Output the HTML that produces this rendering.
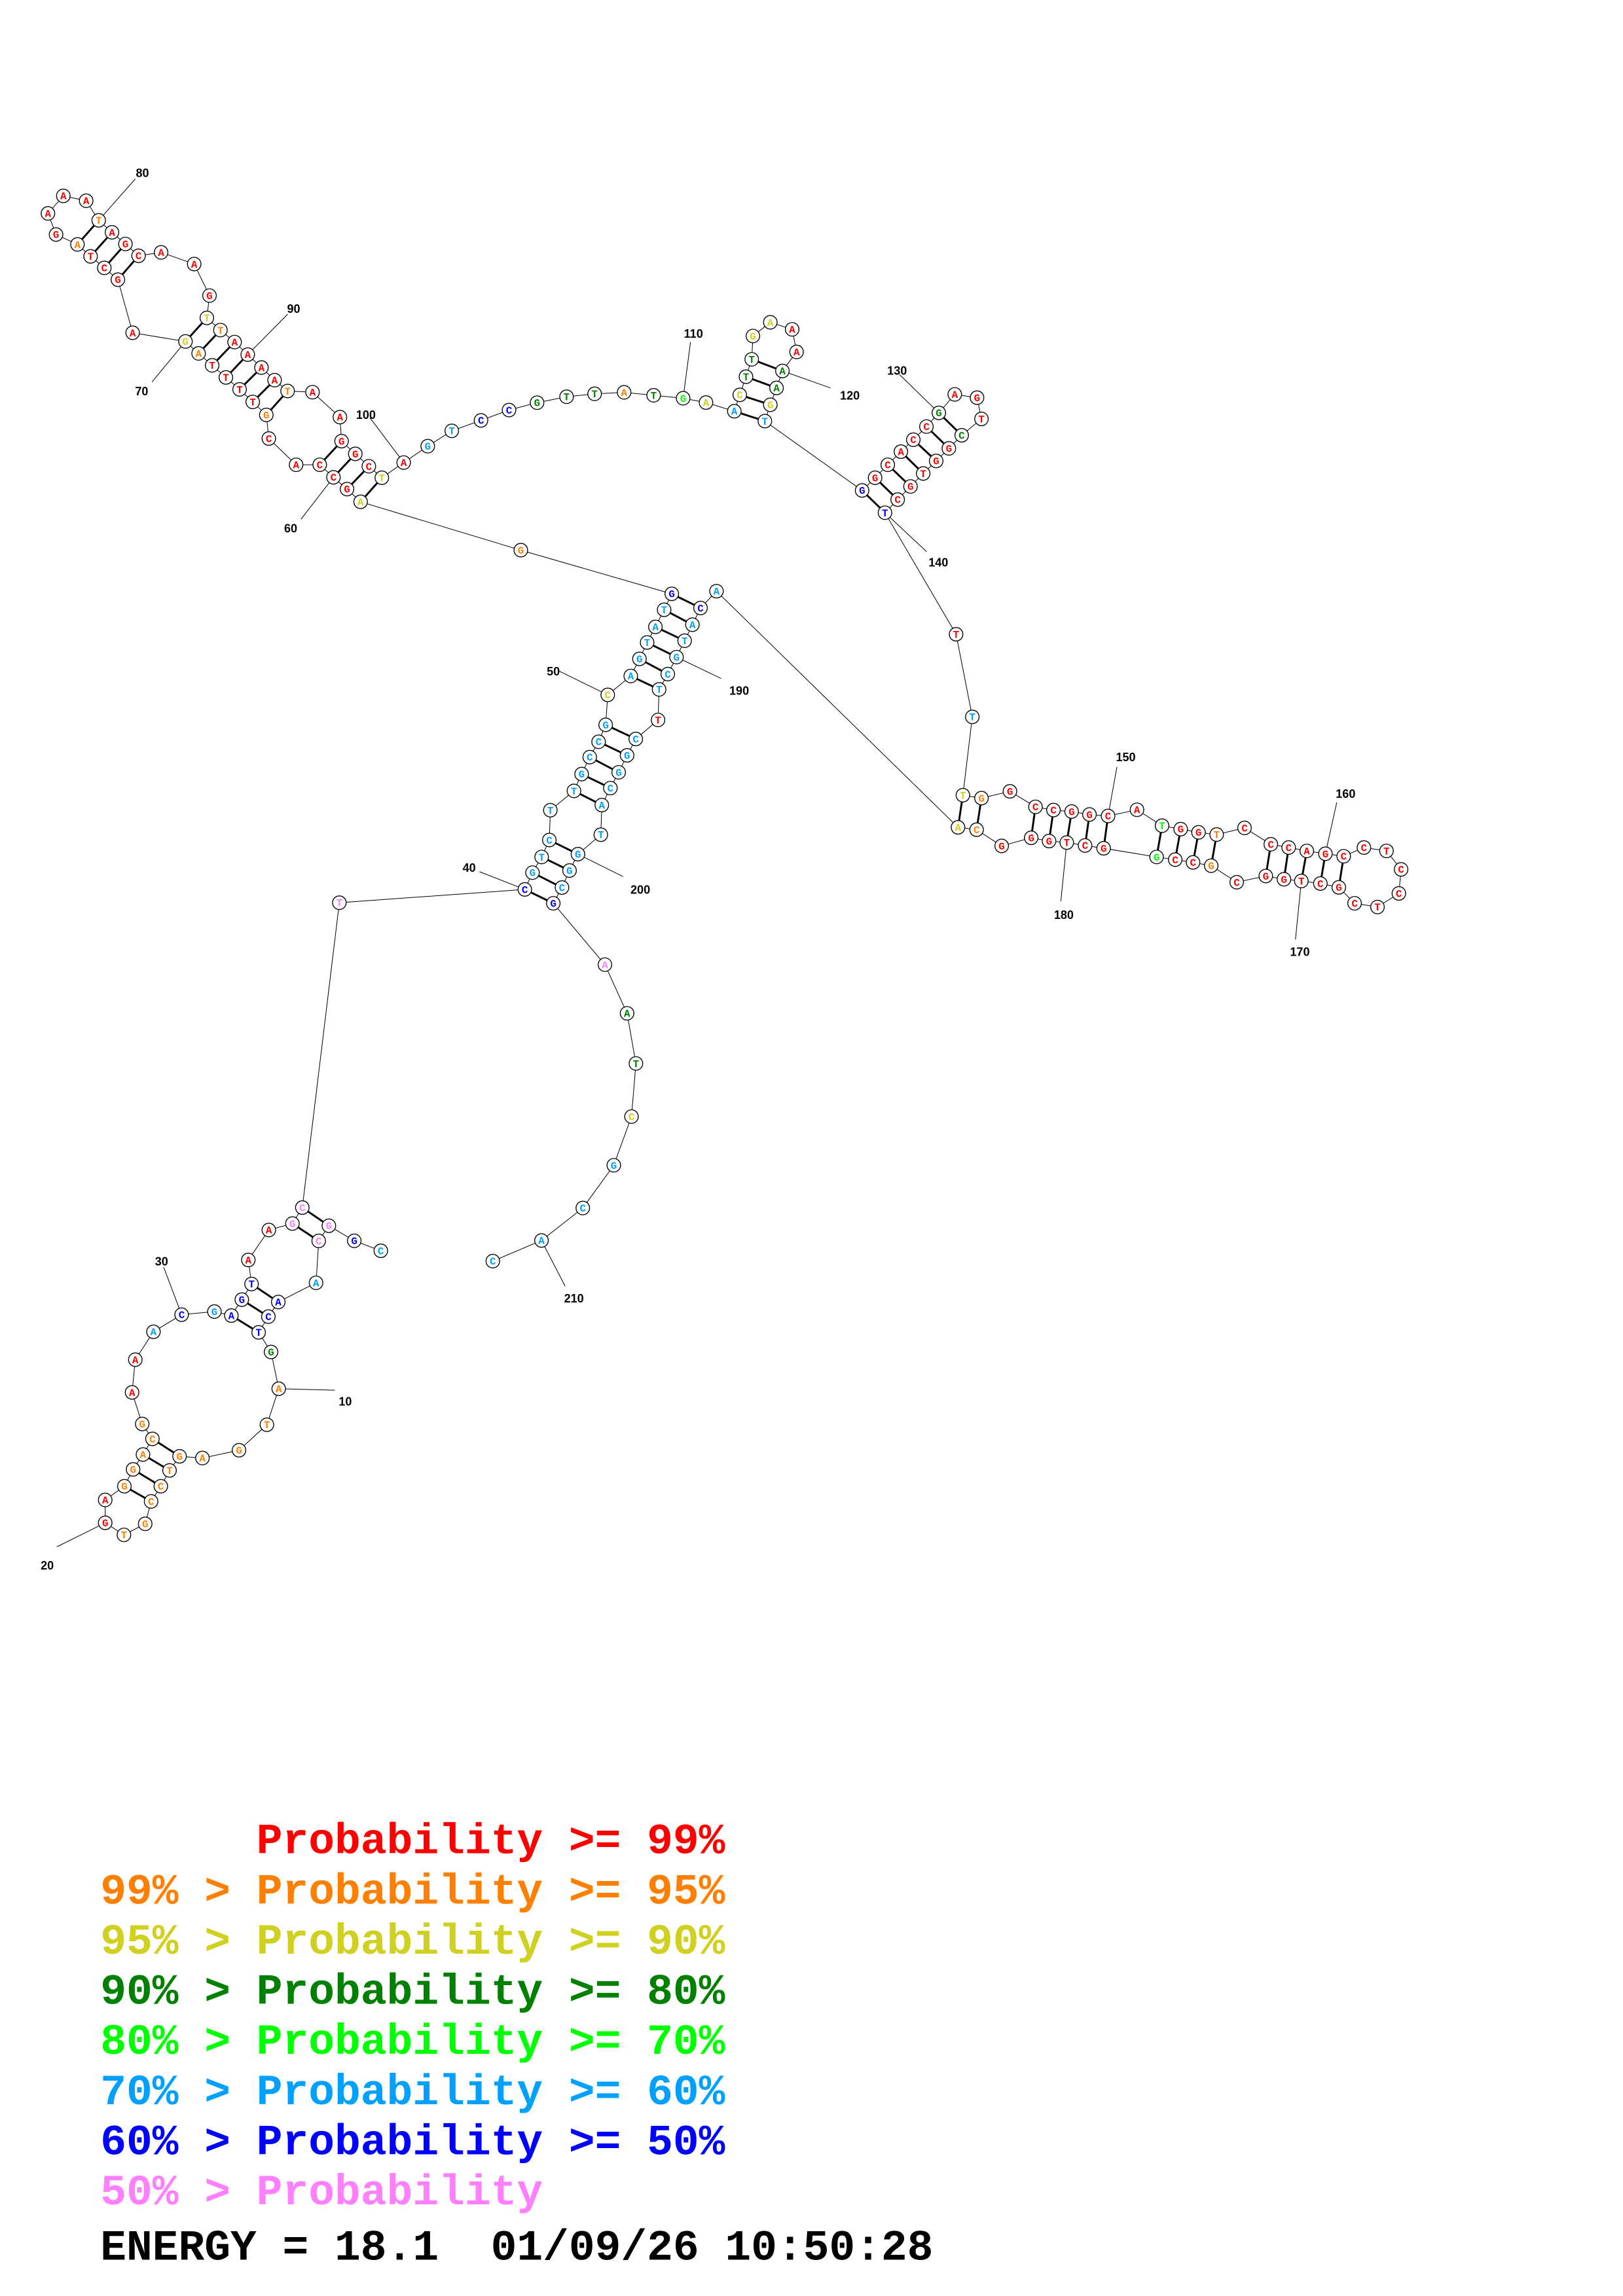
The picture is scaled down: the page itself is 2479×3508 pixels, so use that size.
<!DOCTYPE html>
<html><head><meta charset="utf-8"><style>
html,body{margin:0;padding:0;background:#fff}
svg{display:block}
.c circle{fill:#fff;stroke:#000;stroke-width:0.6}
.t text{font-family:"Liberation Mono",monospace;font-weight:bold;font-size:7px;text-anchor:middle}
.r{fill:#ff0000}.o{fill:#ff8000}.y{fill:#d0d020}.dg{fill:#008000}.g{fill:#00ff00}.lb{fill:#00a0ff}.b{fill:#0000ff}.p{fill:#ff80ff}.k{fill:#000}
.lab text{font-family:"Liberation Sans",sans-serif;font-weight:bold;font-size:8px;text-anchor:middle;fill:#000}
.leg text{font-family:"Liberation Mono",monospace;font-weight:bold;font-size:29.4px;white-space:pre}
</style></head><body>
<svg xmlns="http://www.w3.org/2000/svg" width="2479" height="3508" viewBox="0 0 1100 1556.6" preserveAspectRatio="none">
<rect width="1100" height="1556.6" fill="#fff"/>
<path fill="none" stroke="#000" stroke-width="0.45" d="M258.1 848 L240.1 841.2 L222.9 831 L216 841.3 L214.2 869.7 L188.6 882.7 L181.9 892.6 L175.3 903.3 L183.7 916.6 L188.9 941.5 L180.9 965.9 L162 983.2 L137.2 988.5 L121.7 987.3 L114.9 996.9 L109 1007.6 L102.4 1017.9 L98.4 1033.1 L84 1040.6 L71.3 1032.4 L71.3 1016.9 L84.3 1007.6 L90.2 996.2 L96.9 986.1 L103.3 975.5 L96.4 965.4 L89.5 944 L91.7 921.8 L104 902.9 L123.1 891.3 L145.3 889.2 L156.8 891.9 L163.9 881.1 L170.5 870.5 L168.3 854.2 L182.2 833.9 L198.2 829.5 L204.9 818.7 L230 612 L355.7 603 L360.9 591.6 L367.1 581 L372.3 569.5 L373 549.3 L389 536.2 L394.2 524.8 L399.7 513.3 L405.7 502.9 L410.5 491.4 L411.9 471.1 L427.5 458.3 L433.4 446.7 L438.6 435.6 L444.2 425 L450.1 413.4 L455.3 402.6 L353 373 L244.4 340.2 L235.2 331.6 L226 323.6 L216.7 315.1 L200.7 315.1 L182.2 297.3 L180.5 281.3 L171.3 272.5 L162.4 264 L153.1 255.9 L143.8 247.7 L134.6 239.6 L125.7 231.5 L89.9 225.6 L79.9 189.6 L70.7 181.6 L61.4 173.8 L52.5 165.7 L38 159 L32.5 144.7 L42.9 132.8 L58.4 136.1 L66.9 149.4 L75.9 157.5 L85 165.4 L93.9 173.4 L109.2 171.1 L131.6 179 L142 200.4 L140.2 215.5 L149.4 223.8 L159 231.9 L167.9 240.4 L177.2 249.2 L186.1 257.7 L194.9 265.1 L211.8 265.9 L230.4 282.8 L231.5 299.1 L240.8 307.7 L250 316.1 L258.8 323.9 L273.6 313.6 L289.9 302.5 L306.2 292.1 L326 285 L345 278 L364 273 L384 269 L403 267 L423 266 L443 268 L463 270 L478.5 272.9 L497.7 278.8 L501.4 267.7 L505.6 255.4 L509.5 243.6 L510.3 227.8 L522.1 218.5 L536.9 223.3 L539.9 238.6 L530.3 251.5 L526.3 263 L522.1 274.4 L518.4 285.5 L584.3 332.5 L593.1 323.9 L601.7 315.1 L610.6 306.2 L619 298.1 L627.9 289.2 L636.3 279.9 L647.1 267.4 L662.2 269.6 L665.2 284 L651.8 295.1 L643.1 304 L634.5 312.5 L625.7 321 L617.1 329.8 L608.4 338.7 L599.8 347.6 L648 430 L659 486 L652.6 539.1 L665.2 541.1 L684.5 536.5 L701.8 547 L714 549.2 L726.3 550.2 L738.4 552.2 L751 553.2 L770.6 549 L787.6 559.8 L800.2 562.1 L812.3 564.3 L824.6 565.8 L843.5 561.3 L861.3 572.4 L873.4 574.6 L885.7 576.9 L898.3 578.8 L910.7 580.5 L924.4 574.6 L939.7 576.9 L949.6 589.4 L948.1 605.7 L933.6 614.9 L918.1 612.4 L907.4 601.6 L894.9 599 L882 597.3 L870.2 596.1 L857.9 593.9 L838.2 598.1 L820.9 586.9 L808.6 584.7 L796.5 582.8 L783.9 581 L748 575.1 L735.4 573.2 L723 571.2 L711 570.2 L698.9 568 L678.9 573.5 L661.9 562.5 L649.3 560.9 L485.6 400.8 L474.8 412.2 L469.3 423.5 L464 434.4 L458.5 445.5 L452.6 457 L446.7 467.4 L446 488.1 L430.9 501 L425 512.1 L419.3 523.6 L413.7 534.3 L407.9 545.8 L407.2 565.9 L391.7 579.1 L386 590.2 L380.9 601.7 L375 612.4 L410 654 L425 687 L431 721 L428 757 L416 790 L395 819 L367 841 L334 855"/>
<path fill="none" stroke="#000" stroke-width="0.45" d="M188.9 941.5 L227 942.5 M71.3 1032.4 L38.5 1048.7 M123.1 891.3 L110.9 859 M355.7 603 L325 591 M411.9 471.1 L378.6 454.8 M226 323.6 L204 352 M125.7 231.5 L103 259 M66.9 149.4 L91.7 121.3 M167.9 240.4 L195 213 M273.6 313.6 L250.7 283.2 M463 270 L468 232 M530.3 251.5 L562.8 263 M636.3 279.9 L609.7 254 M599.8 347.6 L628 374 M751 553.2 L757 520 M898.3 578.8 L906 544 M882 597.3 L878 637 M723 571.2 L719 611 M458.5 445.5 L488.8 460 M391.7 579.1 L422.3 594.3 M367 841 L383 872"/>
<path fill="none" stroke="#000" stroke-width="1.3" d="M222.9 831 L204.9 818.7 M216 841.3 L198.2 829.5 M188.6 882.7 L170.5 870.5 M181.9 892.6 L163.9 881.1 M175.3 903.3 L156.8 891.9 M121.7 987.3 L103.3 975.5 M114.9 996.9 L96.9 986.1 M109 1007.6 L90.2 996.2 M102.4 1017.9 L84.3 1007.6 M355.7 603 L375 612.4 M360.9 591.6 L380.9 601.7 M367.1 581 L386 590.2 M372.3 569.5 L391.7 579.1 M389 536.2 L407.9 545.8 M394.2 524.8 L413.7 534.3 M399.7 513.3 L419.3 523.6 M405.7 502.9 L425 512.1 M410.5 491.4 L430.9 501 M427.5 458.3 L446.7 467.4 M433.4 446.7 L452.6 457 M438.6 435.6 L458.5 445.5 M444.2 425 L464 434.4 M450.1 413.4 L469.3 423.5 M455.3 402.6 L474.8 412.2 M244.4 340.2 L258.8 323.9 M235.2 331.6 L250 316.1 M226 323.6 L240.8 307.7 M216.7 315.1 L231.5 299.1 M180.5 281.3 L194.9 265.1 M171.3 272.5 L186.1 257.7 M162.4 264 L177.2 249.2 M153.1 255.9 L167.9 240.4 M143.8 247.7 L159 231.9 M134.6 239.6 L149.4 223.8 M125.7 231.5 L140.2 215.5 M79.9 189.6 L93.9 173.4 M70.7 181.6 L85 165.4 M61.4 173.8 L75.9 157.5 M52.5 165.7 L66.9 149.4 M497.7 278.8 L518.4 285.5 M501.4 267.7 L522.1 274.4 M505.6 255.4 L526.3 263 M509.5 243.6 L530.3 251.5 M584.3 332.5 L599.8 347.6 M593.1 323.9 L608.4 338.7 M601.7 315.1 L617.1 329.8 M610.6 306.2 L625.7 321 M619 298.1 L634.5 312.5 M627.9 289.2 L643.1 304 M636.3 279.9 L651.8 295.1 M652.6 539.1 L649.3 560.9 M665.2 541.1 L661.9 562.5 M701.8 547 L698.9 568 M714 549.2 L711 570.2 M726.3 550.2 L723 571.2 M738.4 552.2 L735.4 573.2 M751 553.2 L748 575.1 M787.6 559.8 L783.9 581 M800.2 562.1 L796.5 582.8 M812.3 564.3 L808.6 584.7 M824.6 565.8 L820.9 586.9 M861.3 572.4 L857.9 593.9 M873.4 574.6 L870.2 596.1 M885.7 576.9 L882 597.3 M898.3 578.8 L894.9 599 M910.7 580.5 L907.4 601.6"/>
<g class="c">
<circle cx="258.1" cy="848" r="4.6"/><circle cx="240.1" cy="841.2" r="4.6"/><circle cx="222.9" cy="831" r="4.6"/><circle cx="216" cy="841.3" r="4.6"/><circle cx="214.2" cy="869.7" r="4.6"/><circle cx="188.6" cy="882.7" r="4.6"/><circle cx="181.9" cy="892.6" r="4.6"/><circle cx="175.3" cy="903.3" r="4.6"/><circle cx="183.7" cy="916.6" r="4.6"/><circle cx="188.9" cy="941.5" r="4.6"/>
<circle cx="180.9" cy="965.9" r="4.6"/><circle cx="162" cy="983.2" r="4.6"/><circle cx="137.2" cy="988.5" r="4.6"/><circle cx="121.7" cy="987.3" r="4.6"/><circle cx="114.9" cy="996.9" r="4.6"/><circle cx="109" cy="1007.6" r="4.6"/><circle cx="102.4" cy="1017.9" r="4.6"/><circle cx="98.4" cy="1033.1" r="4.6"/><circle cx="84" cy="1040.6" r="4.6"/><circle cx="71.3" cy="1032.4" r="4.6"/>
<circle cx="71.3" cy="1016.9" r="4.6"/><circle cx="84.3" cy="1007.6" r="4.6"/><circle cx="90.2" cy="996.2" r="4.6"/><circle cx="96.9" cy="986.1" r="4.6"/><circle cx="103.3" cy="975.5" r="4.6"/><circle cx="96.4" cy="965.4" r="4.6"/><circle cx="89.5" cy="944" r="4.6"/><circle cx="91.7" cy="921.8" r="4.6"/><circle cx="104" cy="902.9" r="4.6"/><circle cx="123.1" cy="891.3" r="4.6"/>
<circle cx="145.3" cy="889.2" r="4.6"/><circle cx="156.8" cy="891.9" r="4.6"/><circle cx="163.9" cy="881.1" r="4.6"/><circle cx="170.5" cy="870.5" r="4.6"/><circle cx="168.3" cy="854.2" r="4.6"/><circle cx="182.2" cy="833.9" r="4.6"/><circle cx="198.2" cy="829.5" r="4.6"/><circle cx="204.9" cy="818.7" r="4.6"/><circle cx="230" cy="612" r="4.6"/><circle cx="355.7" cy="603" r="4.6"/>
<circle cx="360.9" cy="591.6" r="4.6"/><circle cx="367.1" cy="581" r="4.6"/><circle cx="372.3" cy="569.5" r="4.6"/><circle cx="373" cy="549.3" r="4.6"/><circle cx="389" cy="536.2" r="4.6"/><circle cx="394.2" cy="524.8" r="4.6"/><circle cx="399.7" cy="513.3" r="4.6"/><circle cx="405.7" cy="502.9" r="4.6"/><circle cx="410.5" cy="491.4" r="4.6"/><circle cx="411.9" cy="471.1" r="4.6"/>
<circle cx="427.5" cy="458.3" r="4.6"/><circle cx="433.4" cy="446.7" r="4.6"/><circle cx="438.6" cy="435.6" r="4.6"/><circle cx="444.2" cy="425" r="4.6"/><circle cx="450.1" cy="413.4" r="4.6"/><circle cx="455.3" cy="402.6" r="4.6"/><circle cx="353" cy="373" r="4.6"/><circle cx="244.4" cy="340.2" r="4.6"/><circle cx="235.2" cy="331.6" r="4.6"/><circle cx="226" cy="323.6" r="4.6"/>
<circle cx="216.7" cy="315.1" r="4.6"/><circle cx="200.7" cy="315.1" r="4.6"/><circle cx="182.2" cy="297.3" r="4.6"/><circle cx="180.5" cy="281.3" r="4.6"/><circle cx="171.3" cy="272.5" r="4.6"/><circle cx="162.4" cy="264" r="4.6"/><circle cx="153.1" cy="255.9" r="4.6"/><circle cx="143.8" cy="247.7" r="4.6"/><circle cx="134.6" cy="239.6" r="4.6"/><circle cx="125.7" cy="231.5" r="4.6"/>
<circle cx="89.9" cy="225.6" r="4.6"/><circle cx="79.9" cy="189.6" r="4.6"/><circle cx="70.7" cy="181.6" r="4.6"/><circle cx="61.4" cy="173.8" r="4.6"/><circle cx="52.5" cy="165.7" r="4.6"/><circle cx="38" cy="159" r="4.6"/><circle cx="32.5" cy="144.7" r="4.6"/><circle cx="42.9" cy="132.8" r="4.6"/><circle cx="58.4" cy="136.1" r="4.6"/><circle cx="66.9" cy="149.4" r="4.6"/>
<circle cx="75.9" cy="157.5" r="4.6"/><circle cx="85" cy="165.4" r="4.6"/><circle cx="93.9" cy="173.4" r="4.6"/><circle cx="109.2" cy="171.1" r="4.6"/><circle cx="131.6" cy="179" r="4.6"/><circle cx="142" cy="200.4" r="4.6"/><circle cx="140.2" cy="215.5" r="4.6"/><circle cx="149.4" cy="223.8" r="4.6"/><circle cx="159" cy="231.9" r="4.6"/><circle cx="167.9" cy="240.4" r="4.6"/>
<circle cx="177.2" cy="249.2" r="4.6"/><circle cx="186.1" cy="257.7" r="4.6"/><circle cx="194.9" cy="265.1" r="4.6"/><circle cx="211.8" cy="265.9" r="4.6"/><circle cx="230.4" cy="282.8" r="4.6"/><circle cx="231.5" cy="299.1" r="4.6"/><circle cx="240.8" cy="307.7" r="4.6"/><circle cx="250" cy="316.1" r="4.6"/><circle cx="258.8" cy="323.9" r="4.6"/><circle cx="273.6" cy="313.6" r="4.6"/>
<circle cx="289.9" cy="302.5" r="4.6"/><circle cx="306.2" cy="292.1" r="4.6"/><circle cx="326" cy="285" r="4.6"/><circle cx="345" cy="278" r="4.6"/><circle cx="364" cy="273" r="4.6"/><circle cx="384" cy="269" r="4.6"/><circle cx="403" cy="267" r="4.6"/><circle cx="423" cy="266" r="4.6"/><circle cx="443" cy="268" r="4.6"/><circle cx="463" cy="270" r="4.6"/>
<circle cx="478.5" cy="272.9" r="4.6"/><circle cx="497.7" cy="278.8" r="4.6"/><circle cx="501.4" cy="267.7" r="4.6"/><circle cx="505.6" cy="255.4" r="4.6"/><circle cx="509.5" cy="243.6" r="4.6"/><circle cx="510.3" cy="227.8" r="4.6"/><circle cx="522.1" cy="218.5" r="4.6"/><circle cx="536.9" cy="223.3" r="4.6"/><circle cx="539.9" cy="238.6" r="4.6"/><circle cx="530.3" cy="251.5" r="4.6"/>
<circle cx="526.3" cy="263" r="4.6"/><circle cx="522.1" cy="274.4" r="4.6"/><circle cx="518.4" cy="285.5" r="4.6"/><circle cx="584.3" cy="332.5" r="4.6"/><circle cx="593.1" cy="323.9" r="4.6"/><circle cx="601.7" cy="315.1" r="4.6"/><circle cx="610.6" cy="306.2" r="4.6"/><circle cx="619" cy="298.1" r="4.6"/><circle cx="627.9" cy="289.2" r="4.6"/><circle cx="636.3" cy="279.9" r="4.6"/>
<circle cx="647.1" cy="267.4" r="4.6"/><circle cx="662.2" cy="269.6" r="4.6"/><circle cx="665.2" cy="284" r="4.6"/><circle cx="651.8" cy="295.1" r="4.6"/><circle cx="643.1" cy="304" r="4.6"/><circle cx="634.5" cy="312.5" r="4.6"/><circle cx="625.7" cy="321" r="4.6"/><circle cx="617.1" cy="329.8" r="4.6"/><circle cx="608.4" cy="338.7" r="4.6"/><circle cx="599.8" cy="347.6" r="4.6"/>
<circle cx="648" cy="430" r="4.6"/><circle cx="659" cy="486" r="4.6"/><circle cx="652.6" cy="539.1" r="4.6"/><circle cx="665.2" cy="541.1" r="4.6"/><circle cx="684.5" cy="536.5" r="4.6"/><circle cx="701.8" cy="547" r="4.6"/><circle cx="714" cy="549.2" r="4.6"/><circle cx="726.3" cy="550.2" r="4.6"/><circle cx="738.4" cy="552.2" r="4.6"/><circle cx="751" cy="553.2" r="4.6"/>
<circle cx="770.6" cy="549" r="4.6"/><circle cx="787.6" cy="559.8" r="4.6"/><circle cx="800.2" cy="562.1" r="4.6"/><circle cx="812.3" cy="564.3" r="4.6"/><circle cx="824.6" cy="565.8" r="4.6"/><circle cx="843.5" cy="561.3" r="4.6"/><circle cx="861.3" cy="572.4" r="4.6"/><circle cx="873.4" cy="574.6" r="4.6"/><circle cx="885.7" cy="576.9" r="4.6"/><circle cx="898.3" cy="578.8" r="4.6"/>
<circle cx="910.7" cy="580.5" r="4.6"/><circle cx="924.4" cy="574.6" r="4.6"/><circle cx="939.7" cy="576.9" r="4.6"/><circle cx="949.6" cy="589.4" r="4.6"/><circle cx="948.1" cy="605.7" r="4.6"/><circle cx="933.6" cy="614.9" r="4.6"/><circle cx="918.1" cy="612.4" r="4.6"/><circle cx="907.4" cy="601.6" r="4.6"/><circle cx="894.9" cy="599" r="4.6"/><circle cx="882" cy="597.3" r="4.6"/>
<circle cx="870.2" cy="596.1" r="4.6"/><circle cx="857.9" cy="593.9" r="4.6"/><circle cx="838.2" cy="598.1" r="4.6"/><circle cx="820.9" cy="586.9" r="4.6"/><circle cx="808.6" cy="584.7" r="4.6"/><circle cx="796.5" cy="582.8" r="4.6"/><circle cx="783.9" cy="581" r="4.6"/><circle cx="748" cy="575.1" r="4.6"/><circle cx="735.4" cy="573.2" r="4.6"/><circle cx="723" cy="571.2" r="4.6"/>
<circle cx="711" cy="570.2" r="4.6"/><circle cx="698.9" cy="568" r="4.6"/><circle cx="678.9" cy="573.5" r="4.6"/><circle cx="661.9" cy="562.5" r="4.6"/><circle cx="649.3" cy="560.9" r="4.6"/><circle cx="485.6" cy="400.8" r="4.6"/><circle cx="474.8" cy="412.2" r="4.6"/><circle cx="469.3" cy="423.5" r="4.6"/><circle cx="464" cy="434.4" r="4.6"/><circle cx="458.5" cy="445.5" r="4.6"/>
<circle cx="452.6" cy="457" r="4.6"/><circle cx="446.7" cy="467.4" r="4.6"/><circle cx="446" cy="488.1" r="4.6"/><circle cx="430.9" cy="501" r="4.6"/><circle cx="425" cy="512.1" r="4.6"/><circle cx="419.3" cy="523.6" r="4.6"/><circle cx="413.7" cy="534.3" r="4.6"/><circle cx="407.9" cy="545.8" r="4.6"/><circle cx="407.2" cy="565.9" r="4.6"/><circle cx="391.7" cy="579.1" r="4.6"/>
<circle cx="386" cy="590.2" r="4.6"/><circle cx="380.9" cy="601.7" r="4.6"/><circle cx="375" cy="612.4" r="4.6"/><circle cx="410" cy="654" r="4.6"/><circle cx="425" cy="687" r="4.6"/><circle cx="431" cy="721" r="4.6"/><circle cx="428" cy="757" r="4.6"/><circle cx="416" cy="790" r="4.6"/><circle cx="395" cy="819" r="4.6"/><circle cx="367" cy="841" r="4.6"/>
<circle cx="334" cy="855" r="4.6"/>
</g>
<g class="t">
<text x="258.1" y="850.4" class="lb">C</text><text x="240.1" y="843.6" class="b">G</text><text x="222.9" y="833.4" class="p">G</text><text x="216" y="843.7" class="p">C</text><text x="214.2" y="872.1" class="lb">A</text><text x="188.6" y="885.1" class="b">A</text><text x="181.9" y="895" class="b">C</text><text x="175.3" y="905.7" class="b">T</text><text x="183.7" y="919" class="dg">G</text><text x="188.9" y="943.9" class="o">A</text>
<text x="180.9" y="968.3" class="o">T</text><text x="162" y="985.6" class="o">G</text><text x="137.2" y="990.9" class="o">A</text><text x="121.7" y="989.7" class="o">G</text><text x="114.9" y="999.3" class="o">T</text><text x="109" y="1010" class="o">C</text><text x="102.4" y="1020.3" class="o">C</text><text x="98.4" y="1035.5" class="o">G</text><text x="84" y="1043" class="o">T</text><text x="71.3" y="1034.8" class="r">G</text>
<text x="71.3" y="1019.3" class="r">A</text><text x="84.3" y="1010" class="o">G</text><text x="90.2" y="998.6" class="o">G</text><text x="96.9" y="988.5" class="o">A</text><text x="103.3" y="977.9" class="o">C</text><text x="96.4" y="967.8" class="o">G</text><text x="89.5" y="946.4" class="r">A</text><text x="91.7" y="924.2" class="r">A</text><text x="104" y="905.3" class="lb">A</text><text x="123.1" y="893.7" class="b">C</text>
<text x="145.3" y="891.6" class="lb">G</text><text x="156.8" y="894.3" class="b">A</text><text x="163.9" y="883.5" class="b">G</text><text x="170.5" y="872.9" class="b">T</text><text x="168.3" y="856.6" class="r">A</text><text x="182.2" y="836.3" class="r">A</text><text x="198.2" y="831.9" class="p">G</text><text x="204.9" y="821.1" class="p">C</text><text x="230" y="614.4" class="p">T</text><text x="355.7" y="605.4" class="b">C</text>
<text x="360.9" y="594" class="lb">G</text><text x="367.1" y="583.4" class="lb">T</text><text x="372.3" y="571.9" class="lb">C</text><text x="373" y="551.7" class="lb">T</text><text x="389" y="538.6" class="lb">T</text><text x="394.2" y="527.2" class="lb">G</text><text x="399.7" y="515.7" class="lb">C</text><text x="405.7" y="505.3" class="lb">C</text><text x="410.5" y="493.8" class="lb">G</text><text x="411.9" y="473.5" class="y">C</text>
<text x="427.5" y="460.7" class="lb">A</text><text x="433.4" y="449.1" class="lb">G</text><text x="438.6" y="438" class="lb">T</text><text x="444.2" y="427.4" class="lb">A</text><text x="450.1" y="415.8" class="lb">T</text><text x="455.3" y="405" class="b">G</text><text x="353" y="375.4" class="o">G</text><text x="244.4" y="342.6" class="y">A</text><text x="235.2" y="334" class="r">G</text><text x="226" y="326" class="r">C</text>
<text x="216.7" y="317.5" class="r">C</text><text x="200.7" y="317.5" class="r">A</text><text x="182.2" y="299.7" class="r">C</text><text x="180.5" y="283.7" class="o">G</text><text x="171.3" y="274.9" class="r">T</text><text x="162.4" y="266.4" class="r">T</text><text x="153.1" y="258.3" class="r">T</text><text x="143.8" y="250.1" class="r">T</text><text x="134.6" y="242" class="o">A</text><text x="125.7" y="233.9" class="y">G</text>
<text x="89.9" y="228" class="r">A</text><text x="79.9" y="192" class="r">G</text><text x="70.7" y="184" class="r">C</text><text x="61.4" y="176.2" class="r">T</text><text x="52.5" y="168.1" class="o">A</text><text x="38" y="161.4" class="r">G</text><text x="32.5" y="147.1" class="r">A</text><text x="42.9" y="135.2" class="r">A</text><text x="58.4" y="138.5" class="r">A</text><text x="66.9" y="151.8" class="o">T</text>
<text x="75.9" y="159.9" class="r">A</text><text x="85" y="167.8" class="r">G</text><text x="93.9" y="175.8" class="r">C</text><text x="109.2" y="173.5" class="r">A</text><text x="131.6" y="181.4" class="r">A</text><text x="142" y="202.8" class="r">G</text><text x="140.2" y="217.9" class="y">T</text><text x="149.4" y="226.2" class="o">T</text><text x="159" y="234.3" class="r">A</text><text x="167.9" y="242.8" class="r">A</text>
<text x="177.2" y="251.6" class="r">A</text><text x="186.1" y="260.1" class="r">A</text><text x="194.9" y="267.5" class="o">T</text><text x="211.8" y="268.3" class="r">A</text><text x="230.4" y="285.2" class="r">A</text><text x="231.5" y="301.5" class="r">G</text><text x="240.8" y="310.1" class="r">G</text><text x="250" y="318.5" class="r">C</text><text x="258.8" y="326.3" class="y">T</text><text x="273.6" y="316" class="r">A</text>
<text x="289.9" y="304.9" class="lb">G</text><text x="306.2" y="294.5" class="lb">T</text><text x="326" y="287.4" class="b">C</text><text x="345" y="280.4" class="b">C</text><text x="364" y="275.4" class="dg">G</text><text x="384" y="271.4" class="dg">T</text><text x="403" y="269.4" class="dg">T</text><text x="423" y="268.4" class="o">A</text><text x="443" y="270.4" class="dg">T</text><text x="463" y="272.4" class="g">G</text>
<text x="478.5" y="275.3" class="y">A</text><text x="497.7" y="281.2" class="lb">A</text><text x="501.4" y="270.1" class="y">C</text><text x="505.6" y="257.8" class="dg">T</text><text x="509.5" y="246" class="dg">T</text><text x="510.3" y="230.2" class="y">G</text><text x="522.1" y="220.9" class="y">A</text><text x="536.9" y="225.7" class="r">A</text><text x="539.9" y="241" class="r">A</text><text x="530.3" y="253.9" class="dg">A</text>
<text x="526.3" y="265.4" class="dg">A</text><text x="522.1" y="276.8" class="y">G</text><text x="518.4" y="287.9" class="lb">T</text><text x="584.3" y="334.9" class="b">G</text><text x="593.1" y="326.3" class="r">G</text><text x="601.7" y="317.5" class="r">C</text><text x="610.6" y="308.6" class="r">A</text><text x="619" y="300.5" class="r">C</text><text x="627.9" y="291.6" class="r">C</text><text x="636.3" y="282.3" class="dg">G</text>
<text x="647.1" y="269.8" class="r">A</text><text x="662.2" y="272" class="r">G</text><text x="665.2" y="286.4" class="r">T</text><text x="651.8" y="297.5" class="dg">C</text><text x="643.1" y="306.4" class="r">G</text><text x="634.5" y="314.9" class="r">G</text><text x="625.7" y="323.4" class="r">T</text><text x="617.1" y="332.2" class="r">G</text><text x="608.4" y="341.1" class="r">C</text><text x="599.8" y="350" class="b">T</text>
<text x="648" y="432.4" class="r">T</text><text x="659" y="488.4" class="lb">T</text><text x="652.6" y="541.5" class="y">T</text><text x="665.2" y="543.5" class="o">G</text><text x="684.5" y="538.9" class="r">G</text><text x="701.8" y="549.4" class="r">C</text><text x="714" y="551.6" class="r">C</text><text x="726.3" y="552.6" class="r">G</text><text x="738.4" y="554.6" class="r">G</text><text x="751" y="555.6" class="r">C</text>
<text x="770.6" y="551.4" class="r">A</text><text x="787.6" y="562.2" class="g">T</text><text x="800.2" y="564.5" class="r">G</text><text x="812.3" y="566.7" class="r">G</text><text x="824.6" y="568.2" class="o">T</text><text x="843.5" y="563.7" class="r">C</text><text x="861.3" y="574.8" class="r">C</text><text x="873.4" y="577" class="r">C</text><text x="885.7" y="579.3" class="r">A</text><text x="898.3" y="581.2" class="r">G</text>
<text x="910.7" y="582.9" class="r">C</text><text x="924.4" y="577" class="r">C</text><text x="939.7" y="579.3" class="r">T</text><text x="949.6" y="591.8" class="r">C</text><text x="948.1" y="608.1" class="r">C</text><text x="933.6" y="617.3" class="r">T</text><text x="918.1" y="614.8" class="r">C</text><text x="907.4" y="604" class="r">G</text><text x="894.9" y="601.4" class="r">C</text><text x="882" y="599.7" class="r">T</text>
<text x="870.2" y="598.5" class="r">G</text><text x="857.9" y="596.3" class="r">G</text><text x="838.2" y="600.5" class="r">C</text><text x="820.9" y="589.3" class="o">G</text><text x="808.6" y="587.1" class="r">C</text><text x="796.5" y="585.2" class="r">C</text><text x="783.9" y="583.4" class="g">G</text><text x="748" y="577.5" class="r">G</text><text x="735.4" y="575.6" class="r">C</text><text x="723" y="573.6" class="r">T</text>
<text x="711" y="572.6" class="r">G</text><text x="698.9" y="570.4" class="r">G</text><text x="678.9" y="575.9" class="r">G</text><text x="661.9" y="564.9" class="o">C</text><text x="649.3" y="563.3" class="y">A</text><text x="485.6" y="403.2" class="lb">A</text><text x="474.8" y="414.6" class="b">C</text><text x="469.3" y="425.9" class="lb">A</text><text x="464" y="436.8" class="lb">T</text><text x="458.5" y="447.9" class="lb">G</text>
<text x="452.6" y="459.4" class="lb">C</text><text x="446.7" y="469.8" class="lb">T</text><text x="446" y="490.5" class="r">T</text><text x="430.9" y="503.4" class="lb">C</text><text x="425" y="514.5" class="lb">G</text><text x="419.3" y="526" class="lb">G</text><text x="413.7" y="536.7" class="lb">C</text><text x="407.9" y="548.2" class="lb">A</text><text x="407.2" y="568.3" class="lb">T</text><text x="391.7" y="581.5" class="lb">G</text>
<text x="386" y="592.6" class="lb">G</text><text x="380.9" y="604.1" class="lb">C</text><text x="375" y="614.8" class="b">G</text><text x="410" y="656.4" class="p">A</text><text x="425" y="689.4" class="dg">A</text><text x="431" y="723.4" class="dg">T</text><text x="428" y="759.4" class="y">C</text><text x="416" y="792.4" class="lb">G</text><text x="395" y="821.4" class="lb">C</text><text x="367" y="843.4" class="lb">A</text>
<text x="334" y="857.4" class="lb">C</text>
</g>
<g class="lab">
<text x="234" y="953">10</text><text x="32" y="1064">20</text><text x="109.5" y="858">30</text><text x="318" y="591">40</text><text x="375" y="458">50</text><text x="197" y="361">60</text><text x="96" y="268">70</text><text x="96.5" y="120">80</text><text x="199" y="212">90</text>
<text x="248" y="284">100</text><text x="470" y="229">110</text><text x="576" y="271">120</text><text x="608" y="254">130</text><text x="636" y="384">140</text><text x="763" y="516">150</text><text x="912" y="541">160</text><text x="881" y="648">170</text><text x="721" y="623">180</text>
<text x="501" y="471">190</text><text x="434" y="606">200</text><text x="389" y="883">210</text>
</g>
<g class="leg">
<text x="68" y="1256.5" class="r" xml:space="preserve">      Probability &gt;= 99%</text>
<text x="68" y="1290.5" class="o" xml:space="preserve">99% &gt; Probability &gt;= 95%</text>
<text x="68" y="1324.5" class="y" xml:space="preserve">95% &gt; Probability &gt;= 90%</text>
<text x="68" y="1358.5" class="dg" xml:space="preserve">90% &gt; Probability &gt;= 80%</text>
<text x="68" y="1392.5" class="g" xml:space="preserve">80% &gt; Probability &gt;= 70%</text>
<text x="68" y="1426.5" class="lb" xml:space="preserve">70% &gt; Probability &gt;= 60%</text>
<text x="68" y="1460.5" class="b" xml:space="preserve">60% &gt; Probability &gt;= 50%</text>
<text x="68" y="1494.5" class="p" xml:space="preserve">50% &gt; Probability</text>
<text x="68" y="1532" class="k" xml:space="preserve">ENERGY = 18.1  01/09/26 10:50:28</text>
</g>
</svg>
</body></html>
